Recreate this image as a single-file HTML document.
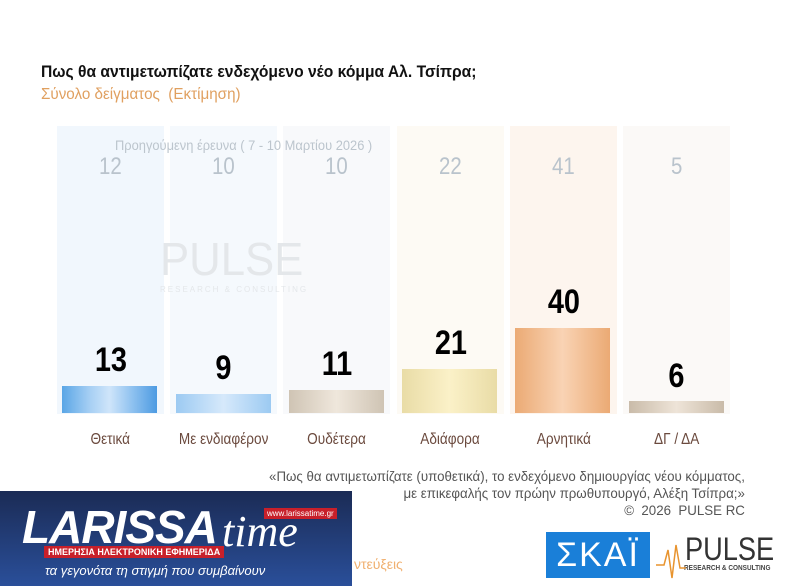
<!DOCTYPE html>
<html><head><meta charset="utf-8"><style>
body{margin:0;width:787px;height:586px;background:#fff;position:relative;overflow:hidden;font-family:"Liberation Sans","Noto Sans CJK SC",sans-serif}
.a{position:absolute}
.n{display:inline-block;transform:scaleX(0.92);transform-origin:left top;white-space:nowrap}
.c{display:inline-block;transform:scaleX(0.85);white-space:nowrap}
.col{position:absolute;top:126px;height:288px;width:107px}
.bar{position:absolute;width:95px}
.prev{position:absolute;top:153px;width:107px;text-align:center;font-size:24px;color:#b9c3cc}
.val{position:absolute;width:107px;text-align:center;font-size:34px;font-weight:bold;color:#000}
.lab{position:absolute;top:431px;width:107px;text-align:center;font-size:16px;color:#6b4a3e}
</style></head><body>
<div class="a" style="left:41px;top:62px;font-size:17px;font-weight:bold;color:#111"><span class="n">Πως θα αντιμετωπίζατε ενδεχόμενο νέο κόμμα Αλ. Τσίπρα;</span></div>
<div class="a" style="left:41px;top:86px;font-size:16px;color:#e0a060"><span class="n" style="transform:scaleX(0.95)">Σύνολο δείγματος &nbsp;(Εκτίμηση)</span></div>

<div class="col" style="left:57px;background:#f1f7fd"></div>
<div class="col" style="left:170px;background:#f5f9fd"></div>
<div class="col" style="left:283px;background:#f8f9fb"></div>
<div class="col" style="left:397px;background:#fdfaf4"></div>
<div class="col" style="left:510px;background:#fdf5ee"></div>
<div class="col" style="left:623px;background:#fbf9f7"></div>

<div class="a" style="left:115px;top:137px;font-size:14px;color:#bcc5cd"><span class="n">Προηγούμενη έρευνα ( 7 - 10 Μαρτίου 2026 )</span></div>
<div class="prev" style="left:57px"><span class="c">12</span></div>
<div class="prev" style="left:170px"><span class="c">10</span></div>
<div class="prev" style="left:283px"><span class="c">10</span></div>
<div class="prev" style="left:397px"><span class="c">22</span></div>
<div class="prev" style="left:510px"><span class="c">41</span></div>
<div class="prev" style="left:623px"><span class="c">5</span></div>

<div class="a" style="left:160px;top:232px;font-size:46px;color:#e4e7ea"><span class="n" style="transform:scaleX(0.95)">PULSE</span></div>
<div class="a" style="left:160px;top:285px;font-size:8px;color:#e4e7ea;letter-spacing:2px">RESEARCH &amp; CONSULTING</div>

<div class="bar" style="left:62px;top:386px;height:27px;background:linear-gradient(90deg,#5aa6e6,#a8d0f4 30%,#cfe5fa 50%,#8cc0ef 75%,#4d9be2)"></div>
<div class="bar" style="left:176px;top:394px;height:19px;background:linear-gradient(90deg,#9ccaf2,#d6e9fb 50%,#9ccaf2)"></div>
<div class="bar" style="left:289px;top:390px;height:23px;background:linear-gradient(90deg,#cfc4b4,#efe7dc 50%,#cfc4b4)"></div>
<div class="bar" style="left:402px;top:369px;height:44px;background:linear-gradient(90deg,#e9dca6,#fbf1c8 50%,#e9dca6)"></div>
<div class="bar" style="left:515px;top:328px;height:85px;background:linear-gradient(90deg,#ebaa74,#f9d3b4 50%,#ebaa74)"></div>
<div class="bar" style="left:629px;top:401px;height:12px;background:linear-gradient(90deg,#c9bba9,#eee4d8 50%,#c9bba9)"></div>

<div class="val" style="left:57px;top:341px"><span class="c">13</span></div>
<div class="val" style="left:170px;top:349px"><span class="c">9</span></div>
<div class="val" style="left:283px;top:345px"><span class="c">11</span></div>
<div class="val" style="left:397px;top:324px"><span class="c">21</span></div>
<div class="val" style="left:510px;top:283px"><span class="c">40</span></div>
<div class="val" style="left:623px;top:357px"><span class="c">6</span></div>

<div class="lab" style="left:57px"><span class="c">Θετικά</span></div>
<div class="lab" style="left:170px"><span class="c">Με ενδιαφέρον</span></div>
<div class="lab" style="left:283px"><span class="c">Ουδέτερα</span></div>
<div class="lab" style="left:397px"><span class="c">Αδιάφορα</span></div>
<div class="lab" style="left:510px"><span class="c">Αρνητικά</span></div>
<div class="lab" style="left:623px"><span class="c">ΔΓ / ΔΑ</span></div>

<div class="a" style="right:42px;top:468px;text-align:right;font-size:14px;color:#555;line-height:17px;transform:scaleX(0.95);transform-origin:right top;white-space:nowrap">«Πως θα αντιμετωπίζατε (υποθετικά), το ενδεχόμενο δημιουργίας νέου κόμματος,<br>με επικεφαλής τον πρώην πρωθυπουργό, Αλέξη Τσίπρα;»<br>©&nbsp; 2026&nbsp; PULSE RC</div>

<div class="a" style="left:0;top:491px;width:352px;height:95px;background:linear-gradient(180deg,#1b2b55,#2a4f9a)"></div>
<div class="a" style="left:22px;top:500px;font-size:46px;font-weight:bold;font-style:italic;color:#fff;letter-spacing:-1px">LARISSA</div>
<div class="a" style="left:222px;top:506px;font-size:44px;font-style:italic;font-family:'Liberation Serif',serif;color:#fff">time</div>
<div class="a" style="left:264px;top:508px;font-size:8px;color:#fff;background:#c8202a;padding:1px 3px">www.larissatime.gr</div>
<div class="a" style="left:44px;top:546px;font-size:9px;font-weight:bold;color:#fff;background:#c8202a;padding:1px 4px">ΗΜΕΡΗΣΙΑ ΗΛΕΚΤΡΟΝΙΚΗ ΕΦΗΜΕΡΙΔΑ</div>
<div class="a" style="left:45px;top:563px;font-size:13px;font-style:italic;color:#fff">τα γεγονότα τη στιγμή που συμβαίνουν</div>
<div class="a" style="left:354px;top:556px;font-size:14px;color:#f0b070">ντεύξεις</div>

<div class="a" style="left:546px;top:532px;width:104px;height:46px;background:#1a7fd8;color:#fff;font-size:34px;text-align:center;line-height:46px;letter-spacing:2px">ΣΚΑΪ</div>
<div class="a" style="left:685px;top:531px;font-size:32px;color:#333"><span class="n" style="transform:scaleX(0.85)">PULSE</span></div>
<div class="a" style="left:684px;top:565px;font-size:7px;color:#444;font-weight:bold"><span class="n">RESEARCH &amp; CONSULTING</span></div>
<svg class="a" style="left:656px;top:540px" width="30" height="40"><polyline points="0,25 8,25 12,10 16,38 20,5 24,28 30,28" fill="none" stroke="#e8942f" stroke-width="1.5"/></svg>
</body></html>
